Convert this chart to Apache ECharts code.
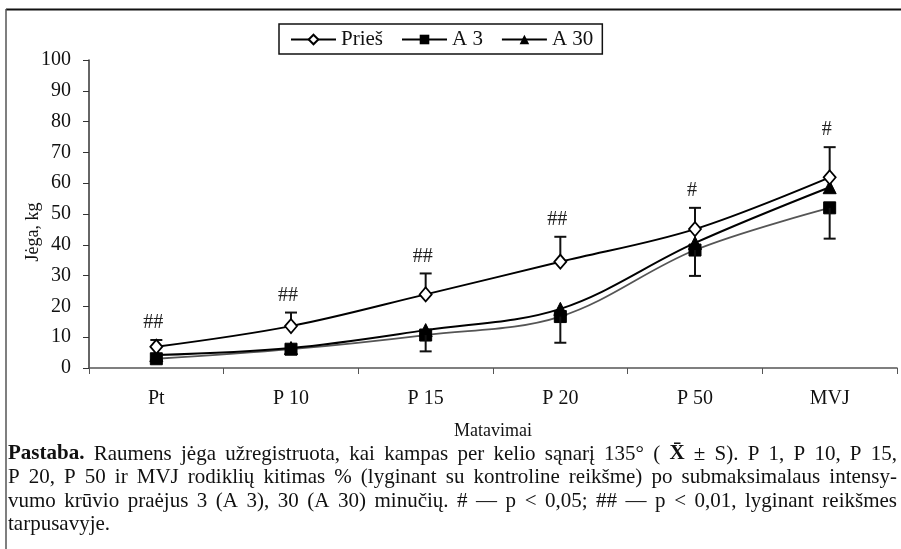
<!DOCTYPE html>
<html>
<head>
<meta charset="utf-8">
<script src="https://cdn.jsdelivr.net/npm/echarts@6/dist/echarts.min.js"></script>
<style>
html,body{margin:0;padding:0;background:#fff;}
#c{width:901px;height:549px;}
</style>
</head>
<body>
<div id="c"></div>
<script>
// ---- data ----
var categories = ['Pt', 'P 10', 'P 15', 'P 20', 'P 50', 'MVJ'];
var pries = [6.9, 13.6, 23.9, 34.5, 45.1, 61.9];
var pries_upper = [9.1, 18.0, 30.7, 42.6, 52.0, 71.7];
var a3 = [3.0, 6.1, 10.7, 16.7, 38.3, 52.0];
var a3_lower = [null, null, 5.4, 8.2, 29.9, 42.0];
var a30 = [4.2, 6.5, 12.3, 19.2, 40.6, 58.7];
var significance = ['##', '##', '##', '##', '#', '#'];
var yTicks = { min: 0, max: 100, interval: 10 };
var noteLines = [
  [{t: 'Pastaba.', b: true}, {t: 'Raumens jėga užregistruota, kai kampas per kelio sąnarį 135° ('}, {t: 'X̄', b: true}, {t: '± S). P 1, P 10, P 15,'}],
  [{t: 'P 20, P 50 ir MVJ rodiklių kitimas % (lyginant su kontroline reikšme) po submaksimalaus intensy-'}],
  [{t: 'vumo krūvio praėjus 3 (A 3), 30 (A 30) minučių. # — p < 0,05; ## — p < 0,01, lyginant reikšmes'}],
  [{t: 'tarpusavyje.'}]
];

var FONT = '"Liberation Serif", "Times New Roman", serif';
var chart = echarts.init(document.getElementById('c'), null, {renderer: 'canvas'});

// ---- justified note text ----
var cv = document.createElement('canvas').getContext('2d');
function measure(txt, bold, size) {
  cv.font = (bold ? 'bold ' : '') + size + 'px ' + FONT;
  return cv.measureText(txt).width;
}
var noteSize = 21, noteLeft = 8, noteRight = 897, noteTop = 455, noteLH = 23.6;
var graphics = [];
noteLines.forEach(function (segs, li) {
  var words = [];
  segs.forEach(function (s) {
    s.t.split(' ').forEach(function (w) { if (w.length) words.push({t: w, b: !!s.b}); });
  });
  var widths = words.map(function (w) { return measure(w.t, w.b, noteSize); });
  var sum = widths.reduce(function (a, b) { return a + b; }, 0);
  var last = li === noteLines.length - 1;
  var gap = last ? measure(' ', false, noteSize) : (noteRight - noteLeft - sum) / (words.length - 1);
  var x = noteLeft;
  words.forEach(function (w, i) {
    graphics.push({
      type: 'text', left: x, top: noteTop + li * noteLH - noteSize / 2 - 1,
      style: {text: w.t, font: (w.b ? 'bold ' : '') + noteSize + 'px ' + FONT, fill: '#111'}
    });
    x += widths[i] + gap;
  });
});
// frame
graphics.push({type: 'line', shape: {x1: 6, y1: 9.5, x2: 901, y2: 9.5}, style: {stroke: '#111', lineWidth: 2}});
graphics.push({type: 'line', shape: {x1: 6, y1: 9, x2: 6, y2: 549}, style: {stroke: '#555', lineWidth: 1.5}});
// y axis name
graphics.push({type: 'text', x: 33, y: 232, rotation: Math.PI / 2,
  style: {text: 'Jėga, kg', font: '18px ' + FONT, fill: '#111', align: 'center', verticalAlign: 'middle'}});

function errData(mean, bound) {
  var out = [];
  mean.forEach(function (m, i) { if (bound[i] != null) out.push([i, m, bound[i], i]); });
  return out;
}
function errRender(withLabel) {
  return function (params, api) {
    var x = api.value(0);
    var p0 = api.coord([x, api.value(1)]);
    var p1 = api.coord([x, api.value(2)]);
    var cap = 6;
    var children = [
      {type: 'line', shape: {x1: p0[0], y1: p0[1], x2: p1[0], y2: p1[1]}, style: {stroke: '#111', lineWidth: 2}},
      {type: 'line', shape: {x1: p1[0] - cap, y1: p1[1], x2: p1[0] + cap, y2: p1[1]}, style: {stroke: '#111', lineWidth: 2}}
    ];
    if (withLabel) {
      children.push({type: 'text', x: p1[0] - 3, y: p1[1] - 17,
        style: {text: significance[api.value(3)], font: '20px ' + FONT, fill: '#222', align: 'center', verticalAlign: 'middle'}});
    }
    return {type: 'group', children: children};
  };
}

var option = {
  animation: false,
  backgroundColor: '#fff',
  textStyle: {fontFamily: FONT},
  grid: {left: 89, right: 4, top: 60, bottom: 181, containLabel: false},
  legend: {
    data: ['Prieš', {name: 'A 3', lineStyle: {color: '#000', width: 2}}, 'A 30'],
    top: 24, left: 279,
    borderColor: '#111', borderWidth: 1.5,
    padding: [5, 9, 4, 11],
    itemWidth: 45, itemHeight: 12, itemGap: 18,
    textStyle: {fontFamily: FONT, fontSize: 21, color: '#111'}
  },
  xAxis: {
    type: 'category', data: categories, boundaryGap: true,
    axisLine: {lineStyle: {color: '#555', width: 1.5}},
    axisTick: {show: true, length: 6, inside: false, lineStyle: {color: '#555'}},
    axisLabel: {fontFamily: FONT, fontSize: 20, color: '#111', margin: 21},
    name: 'Matavimai', nameLocation: 'middle', nameGap: 54,
    nameTextStyle: {fontFamily: FONT, fontSize: 18, color: '#111'}
  },
  yAxis: {
    type: 'value', min: yTicks.min, max: yTicks.max, interval: yTicks.interval,
    splitLine: {show: false},
    axisLine: {show: true, lineStyle: {color: '#333', width: 1.5}},
    axisTick: {show: true, length: 6, lineStyle: {color: '#333'}},
    axisLabel: {fontFamily: FONT, fontSize: 20, color: '#111', margin: 18}
  },
  graphic: graphics,
  series: [
    {name: 'A 3', type: 'line', data: a3, smooth: 0.35, symbol: 'rect', symbolSize: 12,
      lineStyle: {color: '#555', width: 1.8}, itemStyle: {color: '#000', borderColor: '#000'}, z: 2},
    {name: 'A 30', type: 'line', data: a30, smooth: 0.35, symbol: 'triangle', symbolSize: 13,
      lineStyle: {color: '#000', width: 2}, itemStyle: {color: '#000', borderColor: '#000'}, z: 3},
    {name: 'Prieš', type: 'line', data: pries, smooth: 0.35, symbol: 'diamond', symbolSize: [12, 14],
      lineStyle: {color: '#000', width: 2}, itemStyle: {color: '#fff', borderColor: '#000', borderWidth: 1.8}, z: 5},
    {type: 'custom', data: errData(pries, pries_upper), renderItem: errRender(true), z: 4, silent: true},
    {type: 'custom', data: errData(a3, a3_lower), renderItem: errRender(false), z: 4, silent: true}
  ]
};
chart.setOption(option);
</script>
</body>
</html>
